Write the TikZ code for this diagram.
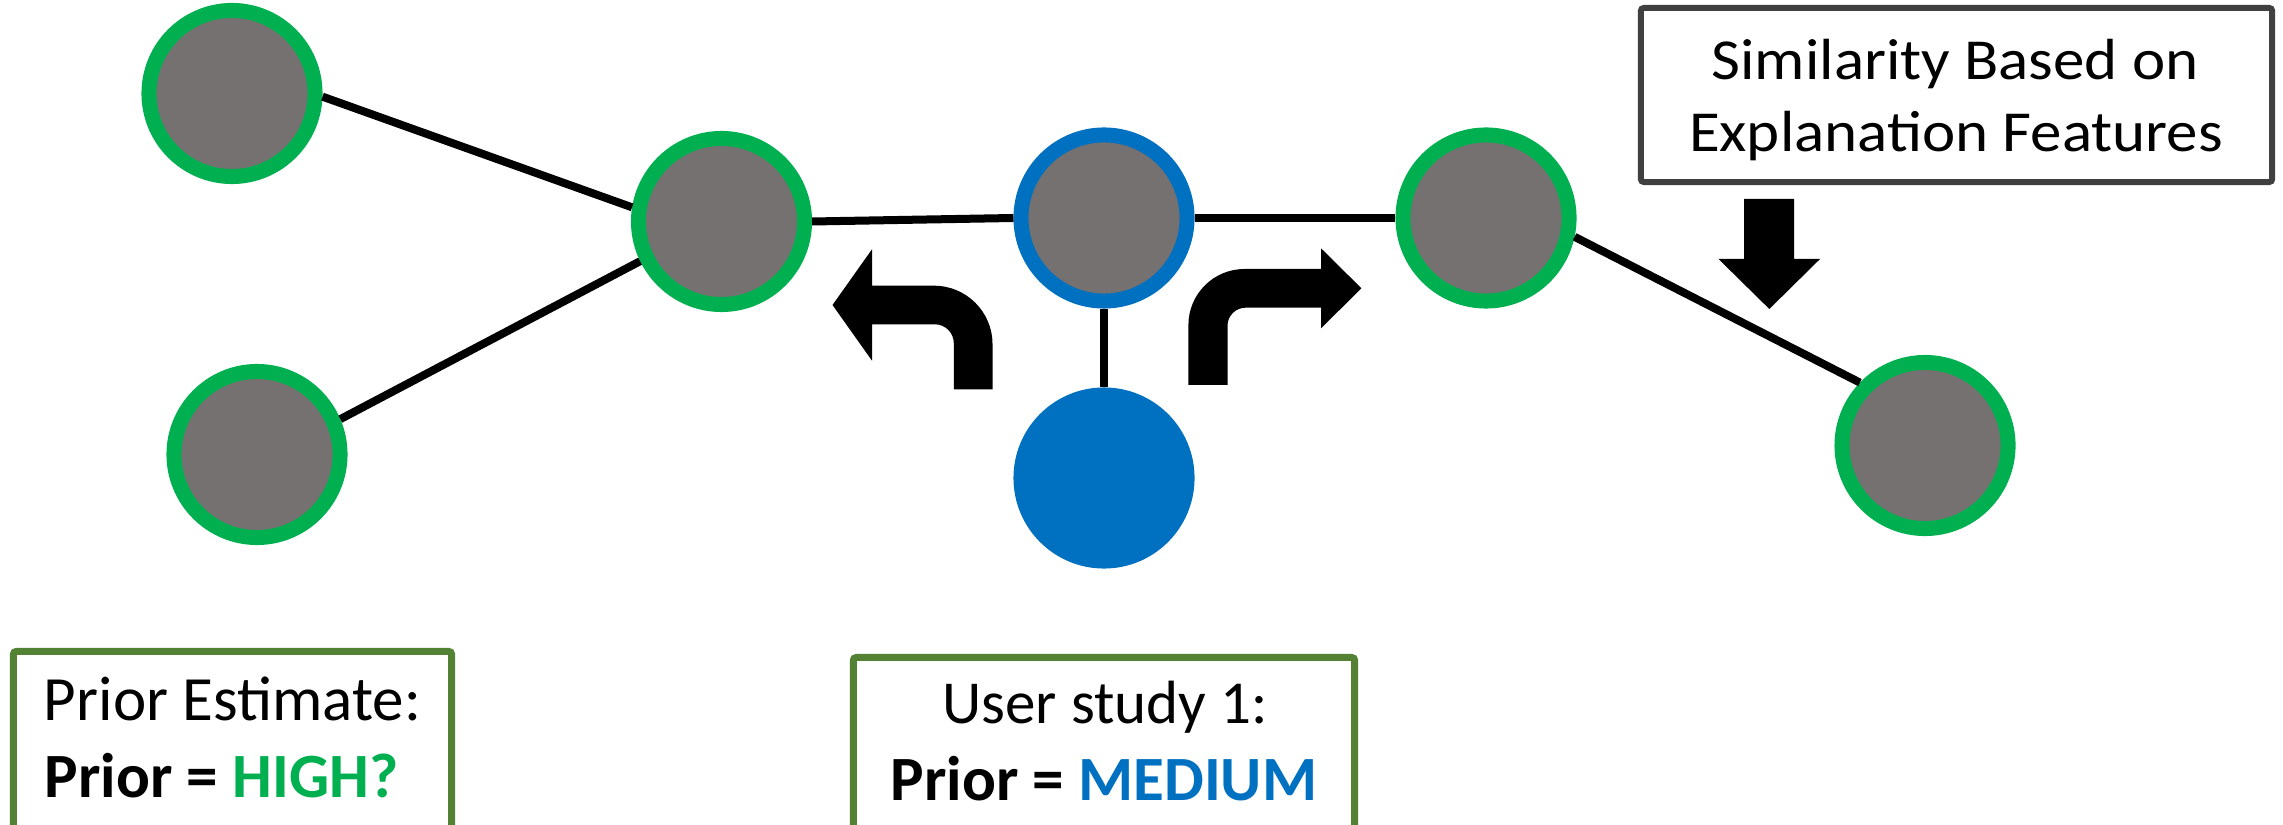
\documentclass[tikz,border=0pt]{standalone}
\usepackage{fontspec}
\setmainfont{Carlito}
\newfontfamily\simfont{Carlito}[FakeStretch=1.085]
\definecolor{ngreen}{HTML}{00B050}
\definecolor{ngray}{HTML}{767171}
\definecolor{nblue}{HTML}{0070C0}
\definecolor{olive}{HTML}{548235}
\definecolor{dgray}{HTML}{404040}
\begin{document}
\begin{tikzpicture}[x=0.01cm,y=-0.01cm,
  gnode/.style={circle,draw=ngreen,fill=ngray,line width=0.15cm,minimum size=1.66cm,inner sep=0pt},
  bnode/.style={circle,draw=nblue,fill=ngray,line width=0.15cm,minimum size=1.66cm,inner sep=0pt},
  snode/.style={circle,draw=nblue,fill=nblue,line width=0.15cm,minimum size=1.66cm,inner sep=0pt},
  link/.style={line width=0.08cm,black},
  simbox/.style={draw=dgray,line width=0.06cm,rounded corners=0.03cm,fill=white,minimum width=6.31cm,minimum height=1.74cm,inner sep=0pt},
  priorbox/.style={draw=olive,line width=0.07cm,rounded corners=0.03cm,fill=white,inner sep=0pt},
  txt/.style={inner sep=0pt,font=\fontsize{17.93pt}{21pt}\selectfont},
  txtS/.style={inner sep=0pt,font=\simfont\fontsize{16.5pt}{20pt}\selectfont},
  txtU/.style={inner sep=0pt,font=\fontsize{17.36pt}{21pt}\selectfont},
  turn/.style={fill=black}]
\useasboundingbox (0,0) rectangle (2283,825);

% nodes
\node[gnode] (n1) at (232,93.5) {};
\node[gnode] (n2) at (721.5,221.5) {};
\node[gnode] (n3) at (257,454.5) {};
\node[bnode] (n4) at (1104,218) {};
\node[snode] (n5) at (1104,478) {};
\node[gnode] (n6) at (1486,218) {};
\node[gnode] (n7) at (1925,445.5) {};

% connectors
\draw[link] (n1.-2) -- (n2.171);
\draw[link] (n3.23) -- (n2.206);
\draw[link] (n2.east) -- (n4.west);
\draw[link] (n4.east) -- (n6.west);
\draw[link] (n4.south) -- (n5.north);
\draw[link] (n6.-12) -- (n7.136);

% turn arrows
\fill[turn] (832.5,305) -- (872,249.3) -- (872,285.7) -- (934,285.7)
  .. controls (966.3,285.7) and (992.5,311.9) .. (992.5,344.2) -- (992.5,389.3)
  -- (953.8,389.3) -- (953.8,343.3)
  .. controls (953.8,332.8) and (945.3,324.3) .. (934.8,324.3)
  -- (872,324.3) -- (872,360.7) -- cycle;
\fill[turn] (1188.4,385) -- (1188.4,325)
  .. controls (1188.4,294.1) and (1213.5,269) .. (1244.4,269)
  -- (1321,269) -- (1321,248.3) -- (1361.4,288.3) -- (1321,328.3) -- (1321,307.7)
  -- (1245.5,307.7) .. controls (1235.6,307.7) and (1227.5,315.8) .. (1227.5,325.7)
  -- (1227.5,385) -- cycle;
\fill[turn] (1744,199) -- (1794,199) -- (1794,259) -- (1820,259) -- (1769.3,309)
  -- (1718.5,259) -- (1744,259) -- cycle;

% boxes
\node[simbox] (sbox) at (1956.5,95) {};
\node[priorbox,minimum width=4.38cm,minimum height=2.485cm] (pbox) at (232.5,775.75) {};
\node[priorbox,minimum width=5.01cm,minimum height=2.425cm] (ubox) at (1104,778.75) {};

% texts
\node[txtS,anchor=base] (s1) at (1955,79.3) {Similarity Based on};
\node[txtS,anchor=base] (s2) at (1956,151.7) {Explanation Features};
\node[txt,anchor=base] (p1) at (232.5,720) {Prior Estimate:};
\node[txt,anchor=base] (p2) at (221.5,797) {\bfseries Prior = \textcolor{ngreen}{HIGH?}};
\node[txtU,anchor=base] (u1) at (1105,723.3) {User study 1:};
\node[txt,anchor=base] (u2) at (1104,800) {\bfseries Prior = \textcolor{nblue}{MEDIUM}};
\end{tikzpicture}
\end{document}
